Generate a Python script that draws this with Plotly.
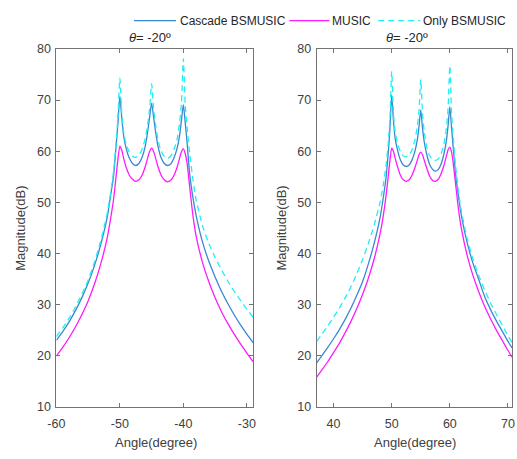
import plotly.graph_objects as go

# ---------------- data ----------------
angle_left = [-60, -59, -58, -57, -56, -55, -54, -53, -52, -51.5, -51, -50.6, -50.3, -50,
              -49.7, -49.4, -49, -48.5, -48, -47.5, -47, -46.5, -46, -45.6, -45.3, -45,
              -44.7, -44.4, -44, -43.5, -43, -42.5, -42, -41.5, -41, -40.6, -40.3, -40,
              -39.7, -39.4, -39, -38.5, -38, -37, -36, -35, -34, -33, -32, -31, -30, -29]

cascade_left = [23.0, 24.7, 26.6, 28.8, 31.3, 34.2, 37.6, 41.8, 47.0, 51.0, 55.0, 61.0, 65.5, 70.8,
                66.5, 63.0, 60.5, 58.6, 57.6, 57.2, 57.6, 58.8, 61.0, 64.0, 66.8, 69.4,
                66.8, 64.0, 61.0, 58.7, 57.6, 57.2, 57.5, 58.6, 60.5, 63.0, 66.0, 69.1,
                65.5, 61.5, 55.5, 51.0, 47.5, 42.3, 38.5, 35.4, 32.6, 30.2, 28.0, 26.0, 24.2, 22.5]

music_left = [19.9, 21.6, 23.5, 25.6, 28.0, 30.7, 34.0, 38.0, 43.0, 46.5, 50.5, 55.0, 58.5, 61.0,
              60.2, 58.6, 56.8, 55.3, 54.5, 54.1, 54.4, 55.3, 57.0, 58.8, 60.0, 60.6,
              60.0, 58.8, 57.0, 55.3, 54.4, 54.0, 54.3, 55.2, 56.8, 58.6, 59.9, 60.5,
              59.5, 57.5, 53.0, 47.5, 43.5, 38.3, 34.5, 31.3, 28.6, 26.3, 24.2, 22.3, 20.5, 18.8]

only_left = [23.7, 25.4, 27.3, 29.5, 32.0, 34.8, 38.3, 42.5, 47.8, 51.5, 56.0, 61.5, 67.0, 74.3,
             67.5, 63.8, 61.3, 59.8, 59.0, 58.8, 59.2, 60.4, 62.5, 65.5, 68.5, 73.2,
             68.5, 65.5, 62.3, 60.0, 59.0, 58.6, 59.0, 60.3, 62.3, 65.5, 69.5, 78.1,
             69.0, 64.5, 59.5, 54.5, 50.5, 45.5, 42.0, 39.2, 36.8, 34.6, 32.6, 30.8, 29.1, 27.5]

angle_right = [37.1, 38, 39, 40, 41, 42, 43, 44, 45, 46, 47, 48, 48.5, 49, 49.4, 49.7, 50,
               50.3, 50.6, 51, 51.5, 52, 52.5, 53, 53.5, 54, 54.4, 54.7, 55,
               55.3, 55.6, 56, 56.5, 57, 57.5, 58, 58.5, 59, 59.4, 59.7, 60,
               60.3, 60.6, 61, 61.5, 62, 63, 64, 65, 66, 67, 68, 69, 70, 70.7]

cascade_right = [18.6, 20.0, 21.6, 23.3, 25.1, 27.1, 29.3, 31.8, 34.5, 38.0, 42.0, 47.0, 50.5, 54.5, 59.5, 64.5, 71.0,
                 66.0, 62.5, 60.2, 58.3, 57.3, 57.0, 57.3, 58.3, 60.0, 62.2, 64.8, 68.1,
                 64.5, 61.8, 59.5, 57.5, 56.5, 56.1, 56.4, 57.5, 59.5, 62.0, 65.0, 68.7,
                 64.5, 60.5, 55.5, 51.0, 47.3, 42.0, 38.0, 34.8, 31.5, 29.0, 26.8, 24.8, 22.8, 21.5]

music_right = [15.8, 17.2, 18.8, 20.6, 22.4, 24.5, 26.7, 29.2, 32.0, 35.2, 39.0, 43.8, 47.0, 51.0, 55.0, 58.2, 60.6,
               60.0, 58.6, 57.0, 55.3, 54.4, 54.1, 54.4, 55.3, 56.8, 58.2, 59.3, 59.8,
               59.3, 58.2, 56.8, 55.2, 54.3, 54.1, 54.5, 55.6, 57.3, 59.0, 60.3, 60.8,
               59.8, 57.5, 53.5, 48.5, 44.8, 39.5, 35.6, 32.4, 29.6, 27.2, 25.0, 23.0, 21.0, 19.7]

only_right = [22.8, 24.2, 25.8, 27.5, 29.3, 31.3, 33.5, 36.0, 38.8, 42.0, 45.6, 50.0, 53.0, 57.0, 61.5, 66.5, 75.6,
              67.5, 63.8, 61.5, 59.9, 59.1, 58.9, 59.2, 60.3, 62.2, 64.8, 68.0, 74.1,
              67.5, 63.8, 61.0, 59.2, 58.4, 58.2, 58.5, 59.5, 61.5, 64.5, 68.5, 76.7,
              67.5, 62.5, 57.0, 52.0, 48.2, 42.8, 38.8, 35.6, 32.8, 30.3, 28.1, 26.0, 23.9, 22.6]

x_ticks_left = [-60, -50, -40, -30]
x_ticks_right = [40, 50, 60, 70]
y_ticks = [10, 20, 30, 40, 50, 60, 70, 80]
series_names = ["Cascade BSMUSIC", "MUSIC", "Only BSMUSIC"]
panel_title = "<i>θ</i>= -20º"

# ---------------- figure ----------------
W, H = 517, 459
BLUE, MAG, CYAN = "#3a88cf", "#ff1aff", "#1ef0f5"
FONT = "Liberation Sans, Arial, sans-serif"
AXC = "#737373"
TXT = "#404040"

fig = go.Figure()
styles = [dict(color=BLUE, width=1.3), dict(color=MAG, width=1.3), dict(color=CYAN, width=1.3, dash="6px,4px")]

for name, ys, st in zip(series_names, [cascade_left, music_left, only_left], styles):
    fig.add_trace(go.Scatter(x=angle_left, y=ys, mode="lines", name=name,
                             line=dict(shape="spline", smoothing=0.6, **st),
                             xaxis="x", yaxis="y", showlegend=False))
for name, ys, st in zip(series_names, [cascade_right, music_right, only_right], styles):
    fig.add_trace(go.Scatter(x=angle_right, y=ys, mode="lines", name=name,
                             line=dict(shape="spline", smoothing=0.6, **st),
                             xaxis="x2", yaxis="y2", showlegend=False))


def px(x):
    return x / W


def py(y):
    return 1 - y / H


ydom = [py(412.3), py(43.3)]
axis_common = dict(showline=True, linecolor=AXC, linewidth=1, mirror="ticks", ticks="inside", ticklen=4,
                   tickcolor=AXC, showgrid=False, zeroline=False,
                   tickfont=dict(family=FONT, size=12.5, color=TXT))

fig.update_layout(
    width=W, height=H, margin=dict(l=0, r=0, t=0, b=0),
    paper_bgcolor="white", plot_bgcolor="white",
    font=dict(family=FONT, size=12, color=TXT),
    xaxis=dict(domain=[px(48.5), px(250)], range=[-60, -29], tickvals=x_ticks_left,
               ticktext=[str(v) for v in x_ticks_left], ticklabelstandoff=5, anchor="y", **axis_common),
    yaxis=dict(domain=ydom, range=[10, 80], tickvals=y_ticks, ticklabelstandoff=2, anchor="x", **axis_common),
    xaxis2=dict(domain=[px(315), px(515)], range=[37.1, 70.7], tickvals=x_ticks_right,
                ticktext=[str(v) for v in x_ticks_right], ticklabelstandoff=5, anchor="y2", **axis_common),
    yaxis2=dict(domain=ydom, range=[10, 80], tickvals=y_ticks, ticklabelstandoff=2, anchor="x2", **axis_common),
    showlegend=False,
)

ann = []
shapes = []
# legend drawn as line samples + text
legend_items = [(128, 171, 174), (287, 328, 330), (378, 421, 423)]
for (x0, x1, tx), name, st in zip(legend_items, series_names, styles):
    shapes.append(dict(type="line", xref="paper", yref="paper", x0=px(x0), x1=px(x1), y0=py(14), y1=py(14),
                       line=dict(color=st["color"], width=1.3, dash=st.get("dash", "solid"))))
    ann.append(dict(text=name, x=px(tx), y=py(14), xref="paper", yref="paper", showarrow=False,
                    xanchor="left", yanchor="middle", borderpad=0,
                    font=dict(family=FONT, size=12, color="#262626")))
for cx in (144, 407):
    ann.append(dict(text=panel_title, x=px(cx), y=py(31), xref="paper", yref="paper", showarrow=False,
                    xanchor="center", yanchor="middle", borderpad=0,
                    font=dict(family=FONT, size=13, color="#262626")))
for cx in (150, 416):
    ann.append(dict(text="Angle(degree)", x=px(cx), y=py(449), xref="paper", yref="paper", showarrow=False,
                    xanchor="center", yanchor="middle", borderpad=0,
                    font=dict(family=FONT, size=13, color=TXT)))
for cx in (11, 279):
    ann.append(dict(text="Magnitude(dB)", x=px(cx), y=py(228), xref="paper", yref="paper", showarrow=False,
                    textangle=-90, xanchor="center", yanchor="middle", borderpad=0,
                    font=dict(family=FONT, size=13, color=TXT)))
fig.update_layout(annotations=ann, shapes=shapes)

fig.write_html("out.html")
